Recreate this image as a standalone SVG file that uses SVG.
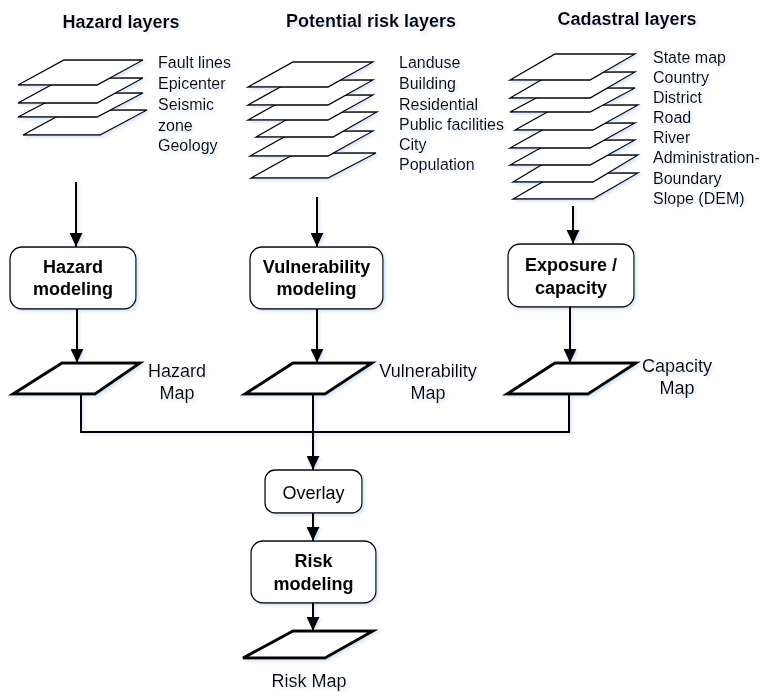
<svg xmlns="http://www.w3.org/2000/svg" width="763" height="693" viewBox="0 0 763 693">
<style>
text{font-family:"Liberation Sans",Arial,sans-serif;fill:#000}
.title{font-size:18px;font-weight:bold;text-anchor:middle}
.lbl{font-size:16px}
.bt{font-size:18px;font-weight:bold;text-anchor:middle}
.nt{font-size:18px;text-anchor:middle}
.layer{fill:#fff;stroke:#000;stroke-width:1.3;stroke-linejoin:miter}
.box{fill:#fff;stroke:#000;stroke-width:1.3}
.map{fill:#fff;stroke:#000;stroke-width:3;stroke-linejoin:miter}
.con{fill:none;stroke:#000;stroke-width:2}
</style>
<defs>
<marker id="arr" markerUnits="userSpaceOnUse" markerWidth="14" markerHeight="13" refX="14" refY="6.5" orient="auto">
<path d="M0,0 L14,6.5 L0,13 z" fill="#000"/>
</marker>
<filter id="glow" x="-10%" y="-10%" width="120%" height="120%">
<feGaussianBlur in="SourceAlpha" stdDeviation="1.5"/>
<feOffset dx="1.5" dy="2" result="b"/>
<feFlood flood-color="#a9c6e8" flood-opacity="0.45"/>
<feComposite in2="b" operator="in"/>
<feMerge><feMergeNode/><feMergeNode in="SourceGraphic"/></feMerge>
</filter>
</defs>
<g filter="url(#glow)">
<g id="hazard-layers">
<text class="title" x="121" y="28">Hazard layers</text>
<polygon class="layer" points="69,110 147,110 100,135 23,135"/>
<polygon class="layer" points="64,93 143,93 97,117 18,117"/>
<polygon class="layer" points="64,78 143,78 97,103 18,103"/>
<polygon class="layer" points="64,60 143,60 97,85 18,85"/>
<text class="lbl" x="158" y="68">Fault lines</text>
<text class="lbl" x="158" y="89">Epicenter</text>
<text class="lbl" x="158" y="110">Seismic</text>
<text class="lbl" x="158" y="131">zone</text>
<text class="lbl" x="158" y="151">Geology</text>
</g>
<g id="potential-risk-layers">
<text class="title" x="371" y="27">Potential risk layers</text>
<polygon class="layer" points="296,153 376,153 328,178 251,178"/>
<polygon class="layer" points="295,131 373,131 328,156 250,156"/>
<polygon class="layer" points="300,112 377,112 333,137 256,137"/>
<polygon class="layer" points="293,95 373,95 328,120 248,120"/>
<polygon class="layer" points="293,80 373,80 328,105 248,105"/>
<polygon class="layer" points="293,62 373,62 328,87 248,87"/>
<text class="lbl" x="399" y="68">Landuse</text>
<text class="lbl" x="399" y="89">Building</text>
<text class="lbl" x="399" y="110">Residential</text>
<text class="lbl" x="399" y="130">Public facilities</text>
<text class="lbl" x="399" y="150">City</text>
<text class="lbl" x="399" y="170">Population</text>
</g>
<g id="cadastral-layers">
<text class="title" x="627" y="25">Cadastral layers</text>
<polygon class="layer" points="558,173 638,173 593,199 513,199"/>
<polygon class="layer" points="558,155 638,155 593,182 513,182"/>
<polygon class="layer" points="555,140 635,140 590,165 510,165"/>
<polygon class="layer" points="555,123 635,123 590,148 510,148"/>
<polygon class="layer" points="560,105 638,105 593,130 515,130"/>
<polygon class="layer" points="555,88 635,88 590,112 510,112"/>
<polygon class="layer" points="555,72 635,72 590,98 510,98"/>
<polygon class="layer" points="555,54 635,54 590,80 510,80"/>
<text class="lbl" x="653" y="63">State map</text>
<text class="lbl" x="653" y="83">Country</text>
<text class="lbl" x="653" y="103">District</text>
<text class="lbl" x="653" y="123">Road</text>
<text class="lbl" x="653" y="143">River</text>
<text class="lbl" x="653" y="163">Administration-</text>
<text class="lbl" x="653" y="184">Boundary</text>
<text class="lbl" x="653" y="204">Slope (DEM)</text>
</g>
<g id="hazard-modeling">
<rect class="box" x="10" y="247" width="126" height="62" rx="12"/>
<text class="bt" x="73" y="273">Hazard</text>
<text class="bt" x="73" y="295">modeling</text>
</g>
<g id="vulnerability-modeling">
<rect class="box" x="250" y="247" width="133" height="62" rx="12"/>
<text class="bt" x="316.5" y="273">Vulnerability</text>
<text class="bt" x="316.5" y="295">modeling</text>
</g>
<g id="exposure-capacity">
<rect class="box" x="508" y="244" width="126" height="63" rx="12"/>
<text class="bt" x="571" y="271">Exposure /</text>
<text class="bt" x="571" y="294">capacity</text>
</g>
<g id="hazard-map">
<polygon class="map" points="62,363 140,363 95,394 13,394"/>
<text class="nt" x="177" y="377">Hazard</text>
<text class="nt" x="177" y="399">Map</text>
</g>
<g id="vulnerability-map">
<polygon class="map" points="293,363 372,363 325,394 245,394"/>
<text class="nt" x="428" y="377">Vulnerability</text>
<text class="nt" x="428" y="399">Map</text>
</g>
<g id="capacity-map">
<polygon class="map" points="555,363 636,363 588,394 507,394"/>
<text class="nt" x="677" y="372">Capacity</text>
<text class="nt" x="677" y="394">Map</text>
</g>
<g id="overlay">
<rect class="box" x="265" y="470" width="97" height="43" rx="10"/>
<text class="nt" x="313.5" y="499">Overlay</text>
</g>
<g id="risk-modeling">
<rect class="box" x="251" y="541" width="125" height="62" rx="12"/>
<text class="bt" x="313.5" y="567">Risk</text>
<text class="bt" x="313.5" y="590">modeling</text>
</g>
<g id="risk-map">
<polygon class="map" points="293,631 373,631 325,658 243,658"/>
<text class="nt" x="309" y="687">Risk Map</text>
</g>
<g id="connectors">
<line class="con" x1="76" y1="182" x2="76" y2="247" marker-end="url(#arr)"/>
<line class="con" x1="317" y1="197" x2="317" y2="247" marker-end="url(#arr)"/>
<line class="con" x1="573" y1="206" x2="573" y2="244" marker-end="url(#arr)"/>
<line class="con" x1="77" y1="309" x2="77" y2="363" marker-end="url(#arr)"/>
<line class="con" x1="317" y1="309" x2="317" y2="363" marker-end="url(#arr)"/>
<line class="con" x1="570" y1="307" x2="570" y2="363" marker-end="url(#arr)"/>
<polyline class="con" points="81,395 81,432 569,432 569,395"/>
<line class="con" x1="313" y1="395" x2="313" y2="432"/>
<line class="con" x1="313" y1="432" x2="313" y2="470" marker-end="url(#arr)"/>
<line class="con" x1="313" y1="513" x2="313" y2="541" marker-end="url(#arr)"/>
<line class="con" x1="313" y1="603" x2="313" y2="631" marker-end="url(#arr)"/>
</g>
</g>
</svg>
